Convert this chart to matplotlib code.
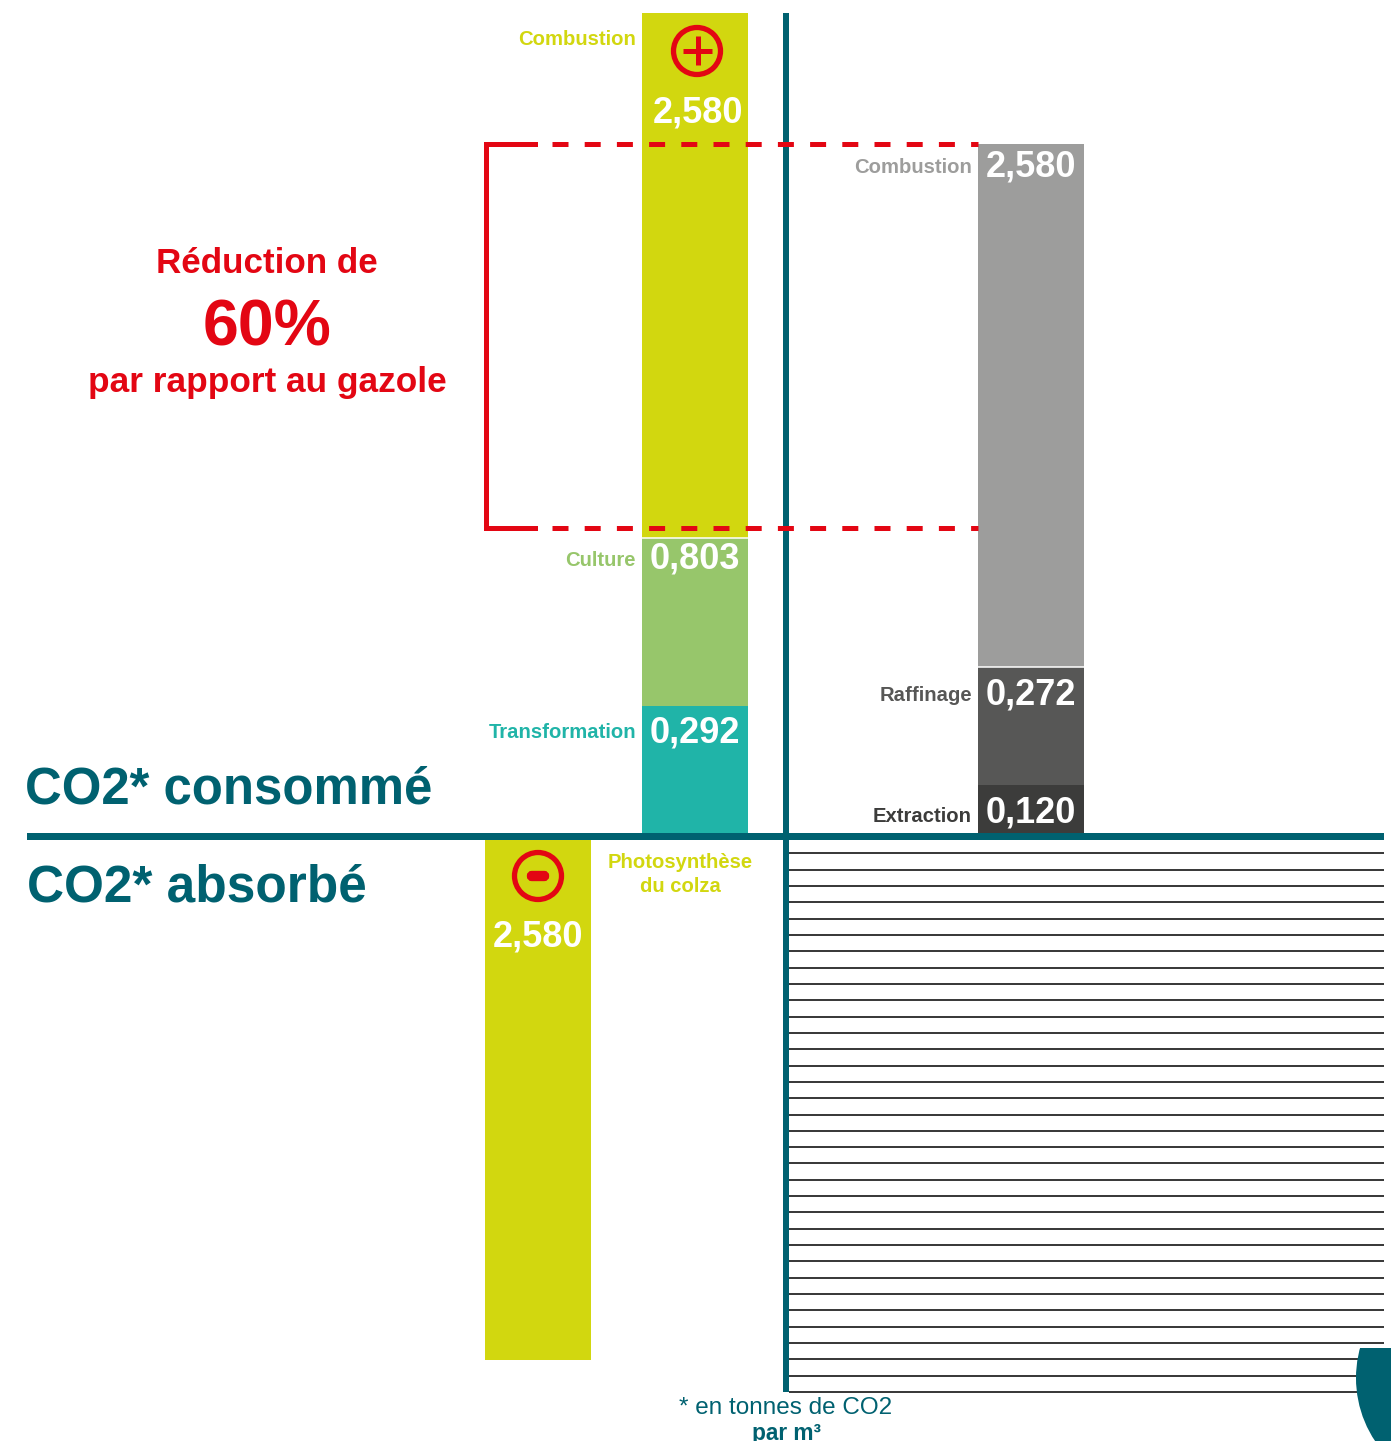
import numpy as np
import matplotlib
matplotlib.use("Agg")
import matplotlib.pyplot as plt
from matplotlib.patches import Circle, Rectangle, FancyBboxPatch

plt.rcParams['font.family'] = ['Liberation Sans', 'DejaVu Sans']

# values printed on the bars, and the heights they are drawn with (not to scale in the original)
colza_labels = ["Transformation", "Culture", "Combustion"]
colza_values = ["0,292", "0,803", "2,580"]
colza_heights = [127, 168, 525]
colza_colors = ["#20B4A8", "#97C66B", "#D2D70F"]
colza_label_y = [738, 565.5, 45]
colza_value_y = [742, 569, 123]

gazole_labels = ["Extraction", "Raffinage", "Combustion"]
gazole_values = ["0,120", "0,272", "2,580"]
gazole_heights = [48, 118, 523]
gazole_colors = ["#3C3C3B", "#575756", "#9D9D9C"]
gazole_label_y = [822, 701, 173]
gazole_value_y = [823, 704, 176]

absorbed_value = "2,580"
absorbed_height = 521

TEAL = "#006170"
RED = "#E30613"
YELLOW = "#D2D70F"
LABEL_SIZE = 14.6

fig = plt.figure(figsize=(13.91, 14.41), dpi=100)
ax = fig.add_axes([0, 0, 1, 1])
ax.set_xlim(0, 1391)
ax.set_ylim(1441, 0)
ax.axis("off")

BASE = 833

# hatching of the lower right quadrant
ax.hlines(np.linspace(837, 1392, 35), 789, 1384, color="black", lw=1.1, zorder=1)

# colza stack
bottom = BASE
for h, c, name, val, ly, vy in zip(colza_heights, colza_colors, colza_labels, colza_values, colza_label_y, colza_value_y):
    ax.bar(695, -h, width=106, bottom=bottom, color=c, linewidth=0, zorder=2)
    bottom -= h
    ax.text(636, ly, name, color=c, ha="right", va="baseline", fontsize=LABEL_SIZE, fontweight="bold", zorder=6)
    ax.text(695 if val != "2,580" else 697.5, vy, val, color="white", ha="center", va="baseline", fontsize=26, fontweight="bold", zorder=6)
ax.hlines(BASE - colza_heights[0] - colza_heights[1], 642, 748, color="white", lw=1.1, zorder=3)

# gazole stack
bottom = BASE
for h, c, name, val, ly, vy in zip(gazole_heights, gazole_colors, gazole_labels, gazole_values, gazole_label_y, gazole_value_y):
    ax.bar(1031, -h, width=106, bottom=bottom, color=c, linewidth=0, zorder=2)
    bottom -= h
    ax.text(972, ly, name, color=c, ha="right", va="baseline", fontsize=LABEL_SIZE, fontweight="bold", zorder=6)
    ax.text(1031, vy, val, color="white", ha="center", va="baseline", fontsize=26, fontweight="bold", zorder=6)
ax.hlines(BASE - gazole_heights[0] - gazole_heights[1], 978, 1084, color="white", lw=1.1, zorder=3)

# absorbed bar
ax.bar(538, absorbed_height, width=106, bottom=839, color=YELLOW, linewidth=0, zorder=2)
ax.text(538, 946, absorbed_value, color="white", ha="center", va="baseline", fontsize=26, fontweight="bold", zorder=6)
ax.text(680, 868, "Photosynthèse", color=YELLOW, ha="center", va="baseline", fontsize=LABEL_SIZE, fontweight="bold")
ax.text(680, 892, "du colza", color=YELLOW, ha="center", va="baseline", fontsize=LABEL_SIZE, fontweight="bold")

# axes cross
ax.add_patch(Rectangle((27, 833), 1357, 6.5, color=TEAL, lw=0, zorder=4))
ax.add_patch(Rectangle((782.5, 13), 6.5, 1379, color=TEAL, lw=0, zorder=4))

# red bracket
ax.plot([535, 485.5, 485.5, 535], [144, 144, 528, 528], color=RED, lw=3.6, solid_joinstyle="miter", zorder=5)
for y in (144, 528):
    ax.plot([551.7, 978], [y, y], color=RED, lw=3.6, linestyle=(0, (3.2, 3.24)), dash_capstyle="butt", zorder=5)

# plus / minus signs
ax.add_patch(Circle((697, 51), 23.5, fill=False, ec=RED, lw=3.8, zorder=6))
ax.plot([683, 712], [50.5, 50.5], color=RED, lw=3.6, solid_capstyle="butt", zorder=6)
ax.plot([697.5, 697.5], [36, 65], color=RED, lw=3.6, solid_capstyle="butt", zorder=6)
ax.add_patch(Circle((538, 876), 23.5, fill=False, ec=RED, lw=3.8, zorder=6))
ax.add_patch(FancyBboxPatch((531, 875), 14, 2, boxstyle="round,pad=0,rounding_size=1", fc=RED, ec=RED, lw=6, zorder=6))

# titles
ax.text(25, 803, "CO2* consommé", color=TEAL, ha="left", va="baseline", fontsize=36.6, fontweight="bold")
ax.text(27, 902, "CO2* absorbé", color=TEAL, ha="left", va="baseline", fontsize=37, fontweight="bold")
ax.text(267, 273, "Réduction de", color=RED, ha="center", va="baseline", fontsize=25.2, fontweight="bold")
ax.text(267, 345, "60%", color=RED, ha="center", va="baseline", fontsize=46.4, fontweight="bold")
ax.text(267, 392, "par rapport au gazole", color=RED, ha="center", va="baseline", fontsize=25.4, fontweight="bold")

# footnote, cut by the bottom edge as in the original
ax.text(786, 1414, "* en tonnes de CO2", color=TEAL, ha="center", va="baseline", fontsize=17.5)
ax.text(786, 1440, "par m³", color=TEAL, ha="center", va="baseline", fontsize=16.3, fontweight="bold")

# teal shape in the corner
corner = Circle((1470, 1378), 114, color=TEAL, lw=0, zorder=5)
ax.add_patch(corner)
corner.set_clip_path(Rectangle((1340, 1348), 60, 100, transform=ax.transData))

fig.savefig("out.png", dpi=100)
